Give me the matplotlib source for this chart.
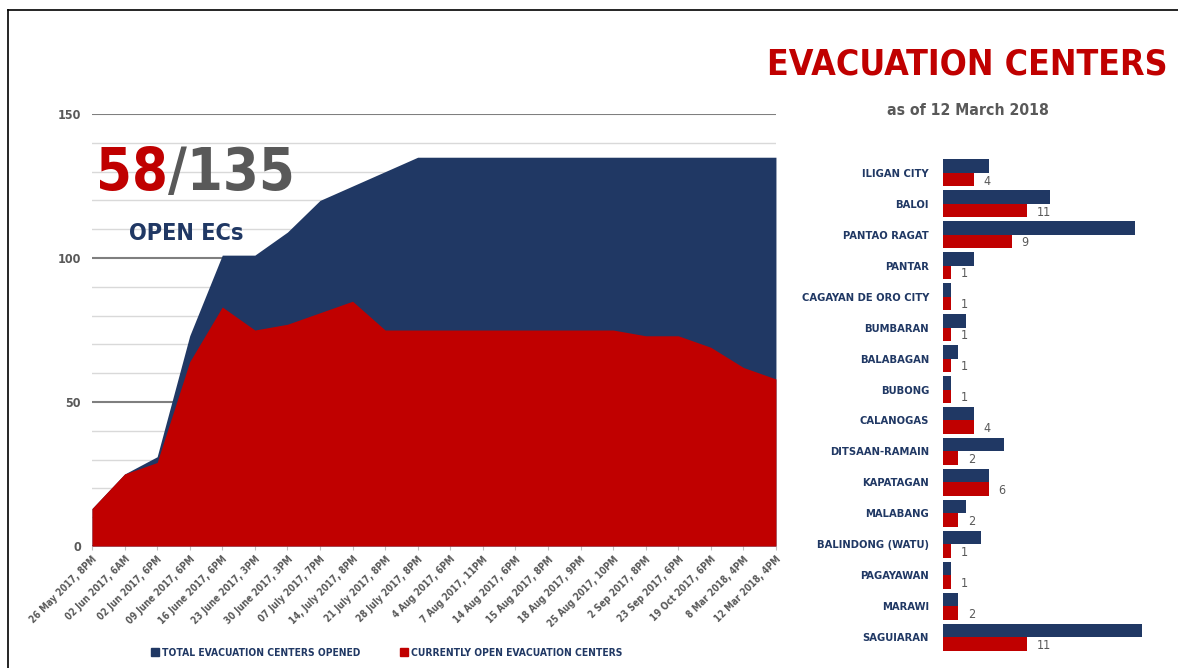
import matplotlib.pyplot as plt
from matplotlib.lines import Line2D
import numpy as np

# evacuation center counts over time
dates = ['26 May 2017, 8PM', '02 Jun 2017, 6AM', '02 Jun 2017, 6PM', '09 June 2017, 6PM',
         '16 June 2017, 6PM', '23 June 2017, 3PM', '30 June 2017, 3PM', '07 July 2017, 7PM',
         '14, July 2017, 8PM', '21 July 2017, 8PM', '28 July 2017, 8PM', '4 Aug 2017, 6PM',
         '7 Aug 2017, 11PM', '14 Aug 2017, 6PM', '15 Aug 2017, 8PM', '18 Aug 2017, 9PM',
         '25 Aug 2017, 10PM', '2 Sep 2017, 8PM', '23 Sep 2017, 6PM', '19 Oct 2017, 6PM',
         '8 Mar 2018, 4PM', '12 Mar 2018, 4PM']
total_opened = [13, 25, 31, 73, 101, 101, 109, 120, 125, 130, 135, 135,
                135, 135, 135, 135, 135, 135, 135, 135, 135, 135]
currently_open = [13, 25, 29, 64, 83, 75, 77, 81, 85, 75, 75, 75,
                  75, 75, 75, 75, 75, 73, 73, 69, 62, 58]

# per municipality
areas = ['ILIGAN CITY', 'BALOI', 'PANTAO RAGAT', 'PANTAR', 'CAGAYAN DE ORO CITY',
         'BUMBARAN', 'BALABAGAN', 'BUBONG', 'CALANOGAS', 'DITSAAN-RAMAIN',
         'KAPATAGAN', 'MALABANG', 'BALINDONG (WATU)', 'PAGAYAWAN', 'MARAWI', 'SAGUIARAN']
area_total = [6, 14, 25, 4, 1, 3, 2, 1, 4, 8, 6, 3, 5, 1, 2, 26]
area_open = [4, 11, 9, 1, 1, 1, 1, 1, 4, 2, 6, 2, 1, 1, 2, 11]

NAVY = '#203864'
RED = '#c00000'
GREY = '#595959'

plt.rcParams['font.family'] = ['DejaVu Sans Condensed', 'Liberation Sans Narrow', 'DejaVu Sans']
plt.rcParams['font.stretch'] = 'condensed'
plt.rcParams['font.weight'] = 'bold'

fig = plt.figure(figsize=(11.78, 6.68), dpi=100)
renderer = fig.canvas.get_renderer()


def fit_width(t, width_px):
    w = t.get_window_extent(renderer).width
    t.set_fontsize(t.get_fontsize() * width_px / w)


# area chart
ax = fig.add_axes([0.0781, 0.1826, 0.5806, 0.6467])
x = np.arange(len(dates))
ax.fill_between(x, total_opened, color=NAVY, lw=0)
ax.fill_between(x, currently_open, color=RED, lw=0)
ax.set_xlim(0, len(dates) - 1)
ax.set_ylim(0, 150)
ax.set_yticks([0, 50, 100, 150])
ax.set_yticks([v for v in range(0, 151, 10) if v % 50], minor=True)
ax.grid(axis='y', which='major', color='#7f7f7f', lw=1.5)
ax.grid(axis='y', which='minor', color='#d9d9d9', lw=1)
ax.set_axisbelow(True)
for s in ax.spines.values():
    s.set_visible(False)
ax.tick_params(axis='y', which='both', length=0, labelsize=9, labelcolor=GREY, pad=8)
ax.set_xticks(x)
ax.set_xticklabels(dates, rotation=45, ha='right', rotation_mode='anchor')
ax.tick_params(axis='x', length=3, color='#bfbfbf', labelsize=7, labelcolor=GREY, pad=3)

t1 = ax.text(0.006, 0.824, '58', transform=ax.transAxes, color=RED, fontsize=56,
             va='baseline', ha='left')
fit_width(t1, 72)
t2 = ax.annotate('/135', xy=(1, 0), xycoords=t1, va='bottom', ha='left', color=GREY,
                 fontsize=t1.get_fontsize())
t3 = ax.text(0.138, 0.708, 'OPEN ECs', transform=ax.transAxes, color=NAVY, fontsize=24,
             va='baseline', ha='center')
fit_width(t3, 115)

# title
tt = fig.text(0.821, 0.904, 'EVACUATION CENTERS', ha='center', va='center', fontsize=30,
              color=RED)
fit_width(tt, 400)
st = fig.text(0.822, 0.835, 'as of 12 March 2018', ha='center', va='center', fontsize=14,
              color=GREY)
fit_width(st, 163)

# bar chart
bx = fig.add_axes([0.8005, 0.0232, 0.1953, 0.741])
y = np.arange(len(areas))
bx.barh(y - 0.218, area_total, height=0.437, color=NAVY)
bx.barh(y + 0.218, area_open, height=0.437, color=RED)
for i, v in enumerate(area_open):
    bx.annotate(str(v), (v, i + 0.218), xytext=(7, -1), textcoords='offset points',
                va='center', ha='left', fontsize=9, color=GREY, fontweight='normal')
bx.set_ylim(15.5, -0.5)
bx.set_xlim(0, 30)
bx.set_yticks(y)
bx.set_yticklabels(areas, color=NAVY, fontsize=8)
bx.tick_params(axis='y', length=0, pad=10)
bx.set_xticks([])
for s in bx.spines.values():
    s.set_visible(False)

# legend
handles = [Line2D([], [], marker='s', ls='', color=NAVY, markersize=5.5),
           Line2D([], [], marker='s', ls='', color=RED, markersize=5.5)]
fig.legend(handles, ['TOTAL EVACUATION CENTERS OPENED', 'CURRENTLY OPEN EVACUATION CENTERS'],
           loc='center', bbox_to_anchor=(0.328, 0.0225), ncol=2, frameon=False,
           fontsize=7.4, labelcolor=NAVY, handletextpad=0.3, columnspacing=3.8, handlelength=0.8)

# frame lines on left and top
fig.add_artist(Line2D([8 / 1178, 1], [1 - 9.5 / 668] * 2, transform=fig.transFigure,
                      color='black', lw=1.2))
fig.add_artist(Line2D([8 / 1178] * 2, [0, 1 - 9.5 / 668], transform=fig.transFigure,
                      color='black', lw=1.2))

fig.savefig('out.png', dpi=100)
